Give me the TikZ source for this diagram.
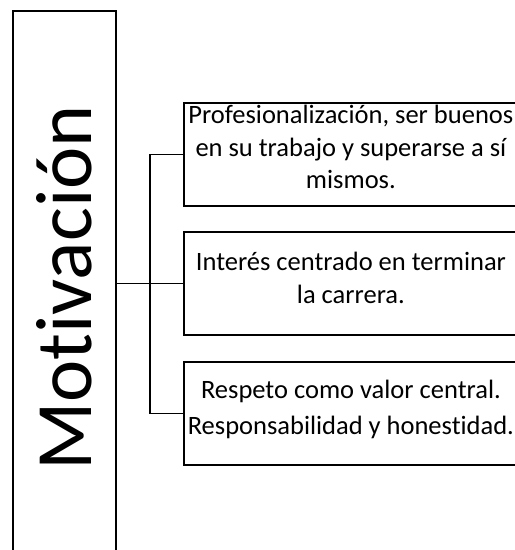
\documentclass[tikz,border=0pt]{standalone}
\usepackage{fontspec}
\setmainfont{Carlito}[Ligatures={NoCommon}]
\begin{document}
\begin{tikzpicture}[x=1pt,y=-1pt,
  frame/.style={draw, line width=1.8pt, inner sep=0pt, anchor=north west},
  box/.style={frame, minimum width=338pt, minimum height=103pt},
  txt/.style={font=\fontsize{26.5}{32.5}\selectfont, align=center, inner sep=0pt, anchor=north},
  conn/.style={line width=1.8pt}]
\useasboundingbox (0,0) rectangle (515,550);
\clip (0,0) rectangle (515,550);
\node[frame, minimum width=103pt, minimum height=560pt] (main) at (12,10) {};
\node[rotate=90, font=\fontsize{80}{96}\selectfont, inner sep=0pt] (mt) at (64,288) {Motivación};
\node[box] (b1) at (183,102) {};
\node[box] (b2) at (183,231) {};
\node[box] (b3) at (183,361) {};
\node[txt] (t1) at ([xshift=-2pt,yshift=-3pt]b1.north) {Profesionalización, ser buenos\\en su trabajo y superarse a sí\\mismos.};
\node[txt] (t2) at ([xshift=-2pt,yshift=-21pt]b2.north) {Interés centrado en terminar\\la carrera.};
\node[txt, font=\fontsize{26.5}{36}\selectfont] (t3) at ([xshift=-2pt,yshift=-19pt]b3.north) {Respeto como valor central.\\Responsabilidad y honestidad.};
\coordinate (vx) at (150,0);
\draw[conn] (main.east |- b2.west) -- (b2.west);
\draw[conn] (b1.west) -| (vx |- b3.west) -- (b3.west);
\end{tikzpicture}
\end{document}
